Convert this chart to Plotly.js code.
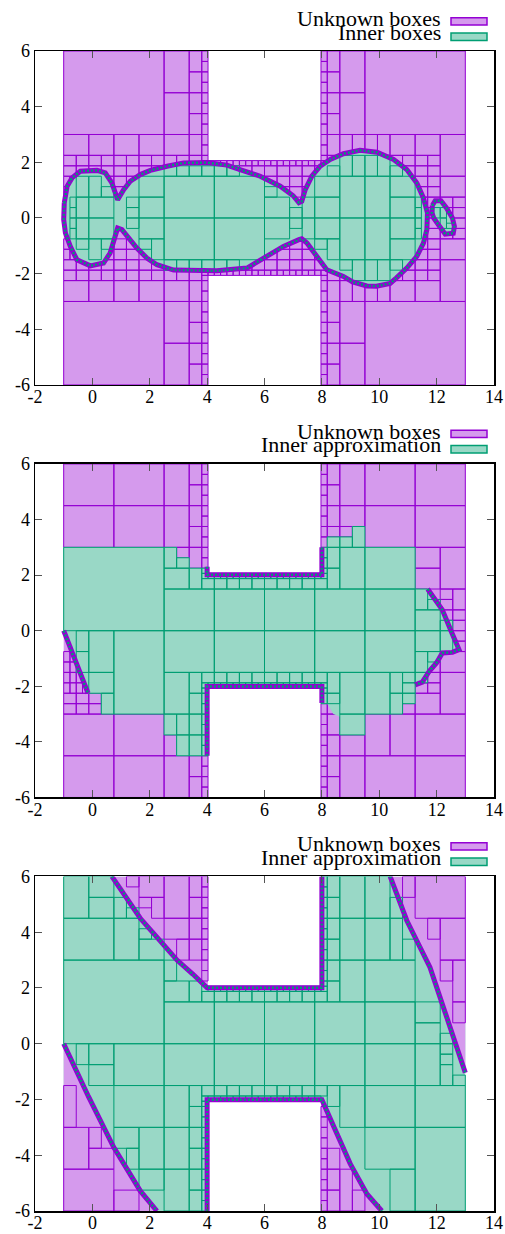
<!DOCTYPE html>
<html><head><meta charset="utf-8">
<script src="https://cdn.plot.ly/plotly-3.0.1.min.js"></script>
<style>html,body{margin:0;padding:0;background:#fff}#chart{width:505px;height:1234px}</style>
</head><body><div id="chart"></div>
<script>
// ================= DATA =================
const xTickVals = [-2,0,2,4,6,8,10,12,14];
const xTickText = ['-2','0','2','4','6','8','10','12','14'];
const yTickVals = [-6,-4,-2,0,2,4,6];
const yTickText = ['-6','-4','-2','0','2','4','6'];
const legendUnknown = ['Unknown boxes','Unknown boxes','Unknown boxes'];
const legendInner = ['Inner boxes','Inner approximation','Inner approximation'];

// search domain minus the two obstacles
const domainPoly = [[-1,-6],[4.03125,-6],[4.03125,-2.0625],[7.96875,-2.0625],[7.96875,-6],[13,-6],[13,6],[7.96875,6],[7.96875,2.0625],[4.03125,2.0625],[4.03125,6],[-1,6]];

// shared box edges
const eUnderObst = [4.03125,4.25,4.46875,4.6875,4.90625,5.125,5.34375,5.5625,5.78125,6,6.21875,6.4375,6.65625,6.875,7.09375,7.3125,7.53125,7.75,7.96875];
const eMidRow = [3.8125,4.25,4.6875,5.125,5.5625,6,6.4375,6.875,7.3125,7.75,8.1875];
const eLeftRow = [-1,-0.5625,-0.125,0.3125,0.75,1.1875,1.625,2.0625,2.5,2.9375,3.375,3.8125];
const eRightRow = [8.1875,8.625,9.0625,9.5,9.9375,10.375,10.8125,11.25,11.6875,12.125];
const eColTop = [1.875,2.0625,2.25,2.625,3,3.375,3.75,4.125,4.5,4.875,5.25,5.625,6];
const eColBot = [-6,-5.625,-5.25,-4.875,-4.5,-4.125,-3.75,-3.375,-3,-2.625,-2.25,-2.0625,-1.875];

// ---------- panel 1 ----------
const p1UnknownBoxes = [
 [-1,2.5,3,6],[2.5,3.375,4.5,6],[2.5,3.375,3,4.5],[9.5,13,3,6],[8.625,9.5,4.5,6],[8.625,9.5,3,4.5],
 [-1,2.5,-6,-3],[2.5,3.375,-6,-4.5],[2.5,3.375,-4.5,-3],[9.5,13,-6,-3],[8.625,9.5,-6,-4.5],[8.625,9.5,-4.5,-3],
 [12.125,13,1.5,3],[12.125,13,-3,-1.5],[12.125,13,0.75,1.5],[12.125,13,-1.5,-0.75]
];
const p1UnknownGrids = [
 [[3.375,3.8125],[2.25,3,3.75,4.5,5.25,6]],
 [[3.8125,4.03125],eColTop],
 [[8.1875,8.625],[2.25,3,3.75,4.5,5.25,6]],
 [[7.96875,8.1875],eColTop],
 [[3.375,3.8125],[-6,-5.25,-4.5,-3.75,-3,-2.25]],
 [[3.8125,4.03125],eColBot],
 [[8.1875,8.625],[-6,-5.25,-4.5,-3.75,-3,-2.25]],
 [[7.96875,8.1875],eColBot],
 [[-1,-0.125,0.75,1.625,2.5,3.375],[2.25,3]],
 [eLeftRow,[1.5,1.875,2.25]],
 [eUnderObst,[1.875,2.0625]],
 [eMidRow,[1.5,1.875]],
 [[8.625,9.0625,9.5,9.9375,10.375,11.25,12.125],[2.25,3]],
 [eRightRow,[1.5,1.875,2.25]],
 [[6,6.4375,6.875,7.3125,7.75],[0.75,1.125,1.5]],
 [[0.3125,0.75,1.1875,1.625],[0.75,1.125,1.5]],
 [[-1,-0.78125,-0.5625],[0.75,1.125,1.5]],
 [[-1,-0.125,0.75,1.625,2.5,3.375],[-3,-2.25]],
 [eLeftRow,[-2.25,-1.875,-1.5]],
 [eUnderObst,[-2.0625,-1.875]],
 [eMidRow,[-1.875,-1.5]],
 [[8.625,9.0625,9.5,9.9375,10.375,11.25,12.125],[-3,-2.25]],
 [eRightRow,[-2.25,-1.875,-1.5]],
 [[5.5625,6,6.4375,6.875,7.3125,7.75,8.1875],[-1.5,-1.125,-0.75]],
 [[0.3125,0.75,1.1875,1.625],[-1.5,-1.125,-0.75]],
 [[-1,-0.78125,-0.5625],[-1.5,-1.125,-0.75]],
 [[11.25,11.6875,12.125],[0.75,1.125,1.5]],
 [[11.25,11.6875,12.125],[-1.5,-1.125,-0.75]],
 [[11.25,11.6875,12.125,12.5625,13],[-0.75,-0.375,0,0.375,0.75]]
];
const p1BlobMain = [
 [-0.98,0.54],[-0.88,1.14],[-0.71,1.44],[-0.42,1.68],[0.16,1.71],[0.45,1.62],[0.68,1.26],[0.8,0.84],[0.88,0.66],
 [1.09,1.02],[1.32,1.32],[1.67,1.56],[2.02,1.71],[2.6,1.86],[3.18,1.98],[4.0,1.99],[4.69,1.9],[5.2,1.72],[5.85,1.5],[6.55,1.14],[7.0,0.8],[7.2,0.55],
 [7.3,0.6],[7.42,1.02],[7.65,1.5],[7.94,1.86],[8.29,2.1],[8.75,2.31],[9.33,2.43],[9.92,2.36],[10.5,2.1],[10.96,1.74],[11.31,1.26],[11.54,0.72],[11.68,0.18],
 [11.66,-0.42],[11.54,-0.9],[11.31,-1.38],[10.96,-1.8],[10.6,-2.15],[10.38,-2.35],[9.9,-2.45],[9.57,-2.44],[9.07,-2.3],[8.75,-2.1],[8.17,-1.86],[7.82,-1.38],[7.48,-0.9],[7.3,-0.75],
 [7.2,-0.78],[6.66,-1.02],[5.97,-1.45],[5.39,-1.8],[4.34,-1.9],[2.83,-1.87],[2.25,-1.68],[1.9,-1.44],[1.55,-1.08],[1.26,-0.72],[1.03,-0.42],[0.88,-0.36],
 [0.74,-0.78],[0.62,-1.26],[0.39,-1.62],[-0.07,-1.72],[-0.54,-1.5],[-0.77,-1.02],[-0.94,-0.54],[-1.0,-0.06]
];
const p1BlobSmall = [[11.85,0.45],[11.95,0.62],[12.15,0.62],[12.35,0.35],[12.55,0.0],[12.62,-0.3],[12.58,-0.55],[12.3,-0.58],[12.1,-0.3],[11.9,0.0],[11.83,0.2]];
const p1InnerBoxes = [
 [-0.5625,-0.125,0.75,1.5],[-0.125,0.3125,0.75,1.5],[0.3125,0.75,0.75,1.125],
 [-0.5625,-0.125,0,0.75],[-0.125,0.75,0,0.75],[-0.5625,-0.125,-0.75,0],[-0.125,0.75,-0.75,0],
 [-0.5625,-0.125,-1.125,-0.75],[-0.125,0.3125,-1.5,-0.75],[0.3125,0.75,-1.125,-0.75],
 [1.1875,1.625,-0.375,0],[1.1875,1.625,0,0.375],[1.1875,1.625,0.375,0.75],
 [1.625,2.5,0.75,1.5],[1.625,2.5,0,0.75],[1.625,2.5,-0.75,0],[1.625,2.0625,-1.125,-0.75],[2.0625,2.5,-1.5,-0.75],
 [2.5,4.25,0,1.5],[4.25,6,0,1.5],[2.5,4.25,-1.5,0],[4.25,6,-1.5,0],
 [6,6.875,0,0.75],[6,6.875,-0.75,0],[6,6.4375,0.75,1.125],[6.875,7.3125,0,0.375],[6.875,7.3125,-0.375,0],
 [7.3125,7.75,-0.75,0],[7.3125,7.75,0,0.75],
 [7.75,8.625,0,0.75],[7.75,8.625,0.75,1.5],[8.625,9.5,0,1.5],[9.5,10.375,0,1.5],[10.375,11.25,0,0.75],[10.375,11.25,0.75,1.5],
 [7.75,8.625,-0.75,0],[8.1875,8.625,-1.5,-0.75],[7.75,8.1875,-1.125,-0.75],[8.625,9.5,-1.5,0],[9.5,10.375,-1.5,0],[10.375,11.25,-0.75,0],[10.375,11.25,-1.5,-0.75],
 [8.625,9.0625,1.5,2.25],[9.0625,9.5,1.5,2.25],[9.5,9.9375,1.5,2.25],[9.9375,10.375,1.5,2.25],[8.1875,8.625,1.5,1.875],[10.375,10.8125,1.5,1.875],
 [8.625,9.0625,-1.875,-1.5],[9.0625,9.5,-2.25,-1.5],[9.5,9.9375,-2.25,-1.5],[9.9375,10.375,-2.25,-1.5],[10.375,10.8125,-1.875,-1.5]
];
const p1InnerGrids = [
 [[2.5,2.9375,3.375,3.8125,4.25,4.6875,5.125],[1.5,1.875]],
 [[2.5,2.9375,3.375,3.8125,4.25,4.6875,5.125],[-1.875,-1.5]],
 [[-0.78125,-0.5625],[-0.75,-0.375,0,0.375,0.75]],
 [[11.25,11.46875],[-0.75,-0.375,0,0.375,0.75]],
 [[11.90625,12.125],[0,0.375]],
 [[12.125,12.34375],[-0.375,0,0.375]],
 [[12.34375,12.5625],[-0.375,-0.1875]]
];
const p1Fringe = [p1BlobMain.concat([p1BlobMain[0]]), p1BlobSmall.concat([p1BlobSmall[0]])];

// ---------- panel 2 ----------
const p2UnknownBoxes = [
 [-1,0.75,4.5,6],[0.75,2.5,4.5,6],[-1,0.75,3,4.5],[0.75,2.5,3,4.5],[2.5,3.375,4.5,6],[2.5,3.375,3,4.5],[2.9375,3.375,2.625,3],
 [11.25,13,4.5,6],[9.5,11.25,4.5,6],[8.625,9.5,4.5,6],[9.5,11.25,3,4.5],[11.25,13,3,4.5],[8.625,9.5,3.75,4.5],[8.625,9.0625,3.375,3.75],
 [11.25,12.125,2.25,3],[11.25,12.125,1.5,2.25],[12.125,13,1.5,3],[12.5625,13,0.75,1.5],[12.125,12.5625,1.125,1.5],[12.125,13,-1.5,-0.75],[12.125,13,-3,-1.5],[11.25,12.125,-3,-2.25],
 [9.5,10.375,-4.5,-3],[10.375,11.25,-4.5,-3],[11.25,13,-4.5,-3],[11.25,13,-6,-4.5],[9.5,11.25,-6,-4.5],[8.625,9.5,-6,-4.5],[8.625,9.5,-4.5,-3.75],[10.8125,11.25,-3,-2.625],[8.1875,8.625,-3,-2.625],
 [-1,0.75,-4.5,-3],[0.75,2.5,-4.5,-3],[-1,0.75,-6,-4.5],[0.75,2.5,-6,-4.5],[2.5,3.375,-6,-4.5],[2.5,2.9375,-4.5,-3.75]
];
const p2UnknownGrids = [
 [[3.375,3.8125],[2.25,3,3.75,4.5,5.25,6]],
 [[3.8125,4.03125],[2.25,2.625,3,3.375,3.75,4.125,4.5,4.875,5.25,5.625,6]],
 [[8.1875,8.625],[3.375,3.75,4.5,5.25,6]],
 [[7.96875,8.1875],[3,3.375,3.75,4.125,4.5,4.875,5.25,5.625,6]],
 [[3.375,3.8125],[-6,-5.25,-4.5]],
 [[3.8125,4.03125],[-6,-5.625,-5.25,-4.875,-4.5]],
 [[8.1875,8.625],[-6,-5.25,-4.5,-3.75,-3]],
 [[7.96875,8.1875],[-6,-5.625,-5.25,-4.875,-4.5,-4.125,-3.75,-3.375,-3,-2.625]],
 [[-1,-0.5625,-0.125],[-3,-2.625,-2.25]],
 [[-0.125,0.3125],[-3,-2.625,-2.25]],
 [[-1,-0.78125,-0.5625,-0.34375,-0.125],[-2.25,-1.875,-1.5]],
 [[-1,-0.78125,-0.5625],[-1.5,-1.125,-0.75]],
 [[12.5625,13],[-0.75,-0.375,0,0.375,0.75]],
 [[12.125,12.5625],[0.375,0.75,1.125]],
 [[11.25,11.6875,12.125],[-2.25,-1.875,-1.5,-1.125]]
];
const p2InnerBoxes = [
 [-1,2.5,0,3],[2.5,2.9375,2.25,3],[2.9375,3.375,2.25,2.625],[2.5,3.375,1.5,2.25],[3.375,3.8125,1.5,2.25],
 [2.5,4.25,0,1.5],[4.25,6,0,1.5],[6,7.75,0,1.5],[7.75,9.5,0,1.5],[9.5,11.25,0,1.5],
 [2.5,4.25,-1.5,0],[4.25,6,-1.5,0],[6,7.75,-1.5,0],[7.75,9.5,-1.5,0],[9.5,11.25,-1.5,0],
 [-0.125,0.75,-1.5,0],[0.75,2.5,-3,0],[-0.125,0.75,-2.25,-1.5],[0.3125,0.75,-3,-2.25],[-0.5625,-0.125,-0.75,0],[-0.5625,-0.125,-1.5,-0.75],
 [8.1875,8.625,1.5,2.25],[8.1875,8.625,2.25,3],[8.625,9.5,1.5,3],[9.5,11.25,1.5,3],[8.1875,8.625,3,3.375],[8.625,9.0625,3,3.375],[9.0625,9.5,3,3.75],
 [11.25,11.6875,0.75,1.5],[11.6875,12.125,0.75,1.125],[11.25,12.125,0,0.75],[12.125,12.5625,0,0.375],[11.25,12.125,-0.75,0],[12.125,12.5625,-0.75,0],[11.25,11.6875,-1.5,-0.75],[11.6875,12.125,-1.125,-0.75],
 [2.5,3.375,-3,-1.5],[3.375,3.8125,-2.25,-1.5],[3.375,3.8125,-3,-2.25],[2.5,2.9375,-3.75,-3],[2.9375,3.375,-3.75,-3],[2.9375,3.375,-4.5,-3.75],[3.375,3.8125,-3.75,-3],[3.375,3.8125,-4.5,-3.75],
 [8.1875,8.625,-2.25,-1.5],[8.1875,8.625,-2.625,-2.25],[8.625,9.5,-3,-1.5],[8.625,9.5,-3.75,-3],[9.5,10.375,-3,-1.5],[10.375,10.8125,-2.25,-1.5],[10.375,10.8125,-3,-2.25],
 [10.8125,11.25,-1.875,-1.5],[10.8125,11.25,-2.25,-1.875],[10.8125,11.25,-2.625,-2.25],[11.25,11.6875,-1.875,-1.5]
];
const p2InnerGrids = [
 [eMidRow,[1.5,1.875]],
 [eMidRow,[-1.875,-1.5]],
 [eUnderObst,[1.875,2.0625]],
 [eUnderObst,[-2.0625,-1.875]],
 [[3.8125,4.03125],[-4.5,-4.125,-3.75,-3.375,-3,-2.625,-2.25,-2.0625,-1.875]],
 [[3.8125,4.03125],[1.875,2.0625,2.25]],
 [[7.96875,8.1875],[1.875,2.0625,2.25,2.625,3]],
 [[7.96875,8.1875],[-2.625,-2.25,-2.0625,-1.875]]
];
const p2Green = [
 [-1,3],[2.9375,3],[2.9375,2.625],[3.375,2.625],[3.375,2.25],[4.03125,2.25],[4.03125,2.0625],[7.96875,2.0625],[7.96875,3],[8.1875,3],[8.1875,3.375],
 [9.0625,3.375],[9.0625,3.75],[9.5,3.75],[9.5,3],[11.25,3],[11.25,1.5],[11.6875,1.5],[11.95,1.1],[12.2,0.75],[12.5,0.0],[12.78,-0.68],[12.55,-0.78],
 [12.2,-0.8],[12.0,-1.15],[11.75,-1.45],[11.5,-1.85],[11.25,-1.95],[11.25,-2.625],[10.8125,-2.625],[10.8125,-3],[9.5,-3],[9.5,-3.75],[8.625,-3.75],
 [8.625,-3.1],[8.4,-3.0],[8.1875,-2.625],[7.96875,-2.625],[7.96875,-2.0625],[4.03125,-2.0625],[4.03125,-4.5],[2.9375,-4.5],[2.9375,-3.75],[2.5,-3.75],
 [2.5,-3],[0.3125,-3],[0.3125,-2.25],[-0.15,-2.25],[-0.6,-1.1],[-1,0]
];
const p2Fringe = [
 [[-1,0],[-0.6,-1.1],[-0.15,-2.25]],
 [[11.6875,1.5],[11.95,1.1],[12.2,0.75],[12.5,0.0],[12.78,-0.68],[12.55,-0.78],[12.2,-0.8],[12.0,-1.15],[11.75,-1.45],[11.5,-1.85],[11.25,-1.95]],
 [[4.0,2.3],[4.0,2.01],[8.0,2.01],[8.0,3.0]],
 [[4.0,-4.5],[4.0,-2.01],[8.0,-2.01],[8.0,-2.6]]
];

// ---------- panel 3 ----------
const p3TopLeft = [[0.68,6],[1.2,5.25],[1.67,4.5],[2.31,3.75],[2.95,3.0],[3.5,2.5],[4.03125,2.0625],[4.03125,6]];
const p3TopRight = [[10.38,6],[13,6],[13,-1.04],[12.35,0.96],[11.77,2.74],[10.96,4.42]];
const p3BottomLeft = [[-1,0],[-0.13,-1.91],[0.74,-3.71],[1.67,-5.28],[2.25,-6],[-1,-6]];
const p3BottomRight = [[7.96875,-2.0625],[8.52,-3.23],[8.99,-4.31],[9.57,-5.39],[10.09,-6],[7.96875,-6]];
const p3UnknownBoxes = [
 [2.5,3.375,4.5,6],[2.5,3.375,3.75,4.5],[1.625,2.5,5.25,6],[2.0625,2.5,4.5,5.25],[1.625,2.0625,4.875,5.25],[2.9375,3.375,3,3.75],[1.1875,1.625,5.625,6],
 [11.25,13,4.5,6],[12.125,13,3,4.5],[11.6875,12.125,3.75,4.5],[12.5625,13,1.5,3],[12.125,12.5625,2.25,3],[12.5625,13,0.75,1.5],[10.8125,11.25,5.25,6],
 [-1,0.75,-6,-4.5],[-1,-0.125,-4.5,-3],[0.75,1.625,-6,-5.25],[-1,-0.5625,-3,-1.5],[-0.125,0.3125,-3.75,-3],[-0.125,0.75,-4.5,-3.75],
 [8.1875,8.625,-6,-5.25],[8.1875,8.625,-5.25,-4.5],[8.1875,8.625,-4.5,-3.75],[8.625,9.0625,-6,-4.5],[9.0625,9.5,-6,-5.25]
];
const p3UnknownGrids = [
 [[3.375,3.8125],[3,3.75,4.5,5.25,6]],
 [[3.8125,4.03125],[2.25,2.625,3,3.375,3.75,4.125,4.5,4.875,5.25,5.625,6]],
 [[7.96875,8.1875],[-6,-5.625,-5.25,-4.875,-4.5,-4.125,-3.75,-3.375,-3,-2.625,-2.25]]
];
const p3InnerBoxes = [
 [-1,0.75,3,4.5],[0.75,1.625,3,4.5],[1.625,2.5,3,3.75],[-1,-0.125,4.5,6],[-0.125,0.75,4.5,5.25],[-0.125,0.75,5.25,6],[0.75,1.1875,4.5,5.25],[1.1875,1.625,4.5,4.875],[1.625,2.0625,3.75,4.125],
 [-1,2.5,0,3],[2.5,3.375,1.5,2.25],[2.5,2.9375,2.25,3],[3.375,3.8125,1.5,2.25],
 [2.5,4.25,0,1.5],[4.25,6,0,1.5],[6,7.75,0,1.5],[7.75,9.5,0,1.5],[9.5,11.25,0,1.5],[11.25,12.125,0,0.75],[11.25,12.125,0.75,1.5],
 [2.5,4.25,-1.5,0],[4.25,6,-1.5,0],[6,7.75,-1.5,0],[7.75,9.5,-1.5,0],[9.5,11.25,-1.5,0],[11.25,12.125,-1.5,0],[12.125,12.5625,-1.5,-0.75],[12.5625,13,-1.5,-1.125],
 [8.625,9.5,4.5,6],[8.625,9.5,3,4.5],[9.5,10.375,4.5,6],[9.5,10.375,3,4.5],[8.625,9.5,1.5,3],[9.5,11.25,1.5,3],[8.1875,8.625,1.5,2.25],[10.375,10.8125,3,4.5],[10.8125,11.25,3,3.75],[10.375,10.8125,4.5,5.25],
 [11.25,13,-3,-1.5],[11.25,13,-6,-3],[9.5,11.25,-4.5,-3],[9.5,11.25,-3,-1.5],[8.625,9.5,-3,-1.5],[10.375,11.25,-6,-4.5],[8.1875,8.625,-2.25,-1.5],
 [-0.125,0.75,-0.75,0],[-0.125,0.75,-1.5,-0.75],[0.75,2.5,-1.5,0],[0.75,2.5,-3,-1.5],[2.5,3.375,-3,-1.5],[2.5,3.375,-4.5,-3],[2.5,3.375,-6,-4.5],
 [1.625,2.5,-4.5,-3],[1.625,2.5,-5.25,-4.5],[0.75,1.625,-3.75,-3],[1.1875,1.625,-4.5,-3.75],[-0.5625,-0.125,-0.75,0]
];
const p3InnerGrids = [
 [eMidRow,[1.5,1.875]],
 [eMidRow,[-1.875,-1.5]],
 [eUnderObst,[1.875,2.0625]],
 [eUnderObst,[-2.0625,-1.875]],
 [[7.96875,8.1875],eColTop],
 [[8.1875,8.625],[2.25,3,3.75,4.5,5.25,6]],
 [[3.375,3.8125],[-6,-5.25,-4.5,-3.75,-3,-2.25,-1.5]],
 [[3.8125,4.03125],eColBot],
 [[12.125,12.5625],[-0.75,-0.375,0,0.375]]
];
const p3Fringe = [
 [[0.68,6],[1.2,5.25],[1.67,4.5],[2.31,3.75],[2.95,3.0],[3.5,2.5],[4.0,2.01],[8.0,2.01],[8.0,6]],
 [[10.38,6],[10.96,4.42],[11.77,2.74],[12.35,0.96],[13,-1.04]],
 [[-1,0],[-0.13,-1.91],[0.74,-3.71],[1.67,-5.28],[2.25,-6]],
 [[4.0,-6],[4.0,-2.01],[8.0,-2.01],[8.52,-3.23],[8.99,-4.31],[9.57,-5.39],[10.09,-6]]
];

// ================= DRAWING =================
const U_FILL = '#d59aed', U_LINE = '#9400d3', I_FILL = '#99d8c6', I_LINE = '#009e73';
const FONT = 'Liberation Serif, Times New Roman, serif';

function boxesXY(boxes, grids) {
  const xs = [], ys = [];
  const add = (x0, x1, y0, y1) => { xs.push(x0, x1, x1, x0, x0, null); ys.push(y0, y0, y1, y1, y0, null); };
  boxes.forEach(b => add(b[0], b[1], b[2], b[3]));
  grids.forEach(g => {
    const gx = g[0], gy = g[1];
    for (let i = 0; i < gx.length - 1; i++)
      for (let j = 0; j < gy.length - 1; j++) add(gx[i], gx[i + 1], gy[j], gy[j + 1]);
  });
  return [xs, ys];
}
function polysXY(polys, close) {
  const xs = [], ys = [];
  polys.forEach(p => {
    p.forEach(pt => { xs.push(pt[0]); ys.push(pt[1]); });
    if (close) { xs.push(p[0][0]); ys.push(p[0][1]); }
    xs.push(null); ys.push(null);
  });
  return [xs, ys];
}

const panels = [
  {ax: '',  order: ['aU','bU','aI','bI'], aU: [domainPoly], aI: [p1BlobMain, p1BlobSmall],
   ub: p1UnknownBoxes, ug: p1UnknownGrids, ib: p1InnerBoxes, ig: p1InnerGrids, fr: p1Fringe},
  {ax: '2', order: ['aU','bU','aI','bI'], aU: [domainPoly], aI: [p2Green],
   ub: p2UnknownBoxes, ug: p2UnknownGrids, ib: p2InnerBoxes, ig: p2InnerGrids, fr: p2Fringe},
  {ax: '3', order: ['aI','aU','bU','bI'], aU: [p3TopLeft, p3TopRight, p3BottomLeft, p3BottomRight], aI: [domainPoly],
   ub: p3UnknownBoxes, ug: p3UnknownGrids, ib: p3InnerBoxes, ig: p3InnerGrids, fr: p3Fringe}
];

const traces = [];
panels.forEach(p => {
  const xa = 'x' + p.ax, ya = 'y' + p.ax;
  const base = {type: 'scatter', mode: 'lines', xaxis: xa, yaxis: ya, hoverinfo: 'skip', showlegend: false, fill: 'toself'};
  p.order.forEach(k => {
    let xy, fc, lc, lw;
    if (k === 'aU') { xy = polysXY(p.aU, false); fc = U_FILL; lc = U_FILL; lw = 0; }
    if (k === 'aI') { xy = polysXY(p.aI, false); fc = I_FILL; lc = I_FILL; lw = 0; }
    if (k === 'bU') { xy = boxesXY(p.ub, p.ug); fc = U_FILL; lc = U_LINE; lw = 1; }
    if (k === 'bI') { xy = boxesXY(p.ib, p.ig); fc = I_FILL; lc = I_LINE; lw = 1; }
    traces.push(Object.assign({}, base, {x: xy[0], y: xy[1], fillcolor: fc, line: {color: lc, width: lw}}));
  });
  const f = polysXY(p.fr, false);
  traces.push({type: 'scatter', mode: 'lines', xaxis: xa, yaxis: ya, hoverinfo: 'skip', showlegend: false,
    x: f[0], y: f[1], line: {color: U_LINE, width: 5}});
  traces.push({type: 'scatter', mode: 'lines', xaxis: xa, yaxis: ya, hoverinfo: 'skip', showlegend: false,
    x: f[0], y: f[1], line: {color: I_LINE, width: 2.5, dash: '2px,2px'}});
});

const M = {l: 35, r: 11, t: 51, b: 23}, W = 505, H = 1234;
const PW = W - M.l - M.r, PH = H - M.t - M.b;
const px2x = px => (px - M.l) / PW;
const py2y = py => (H - M.b - py) / PH;
const domains = [[0.7121, 1], [0.3565, 0.644], [0, 0.2884]];
const offsets = [0, 412.5, 825];

function xAxis(anchor) {
  return {range: [-2, 14], tickvals: xTickVals, ticktext: xTickText, ticks: 'inside', ticklen: 7, tickwidth: 1, tickcolor: '#555',
    showline: true, linecolor: '#000', linewidth: 1.5, mirror: 'ticks', showgrid: false, zeroline: false, ticklabelstandoff: -5,
    tickfont: {family: FONT, size: 18, color: '#000'}, anchor: anchor, fixedrange: true, domain: [0, 1]};
}
function yAxis(anchor, dom) {
  return {range: [-6, 6], tickvals: yTickVals, ticktext: yTickText, ticks: 'inside', ticklen: 7, tickwidth: 1, tickcolor: '#555',
    showline: true, linecolor: '#000', linewidth: 1.5, mirror: 'ticks', showgrid: false, zeroline: false,
    tickfont: {family: FONT, size: 18, color: '#000'}, anchor: anchor, fixedrange: true, domain: dom};
}

const layout = {width: W, height: H, margin: M, paper_bgcolor: '#fff', plot_bgcolor: '#fff', showlegend: false,
  xaxis: xAxis('y'), yaxis: yAxis('x', domains[0]),
  xaxis2: xAxis('y2'), yaxis2: yAxis('x2', domains[1]),
  xaxis3: xAxis('y3'), yaxis3: yAxis('x3', domains[2]),
  annotations: [], shapes: []};

offsets.forEach((o, i) => {
  layout.annotations.push({xref: 'paper', yref: 'paper', x: px2x(443), y: py2y(18.5 + o), xanchor: 'right', yanchor: 'middle',
    text: legendUnknown[i], showarrow: false, font: {family: FONT, size: 22, color: '#000'}});
  layout.annotations.push({xref: 'paper', yref: 'paper', x: px2x(443), y: py2y(32.5 + o), xanchor: 'right', yanchor: 'middle',
    text: legendInner[i], showarrow: false, font: {family: FONT, size: 22, color: '#000'}});
  layout.shapes.push({type: 'rect', xref: 'paper', yref: 'paper', x0: px2x(451), x1: px2x(487), y0: py2y(25 + o), y1: py2y(17.7 + o),
    fillcolor: U_FILL, line: {color: U_LINE, width: 1.5}});
  layout.shapes.push({type: 'rect', xref: 'paper', yref: 'paper', x0: px2x(451), x1: px2x(487), y0: py2y(40.5 + o), y1: py2y(33 + o),
    fillcolor: I_FILL, line: {color: I_LINE, width: 1.5}});
});

Plotly.newPlot('chart', traces, layout, {staticPlot: true, displayModeBar: false});
</script></body></html>
